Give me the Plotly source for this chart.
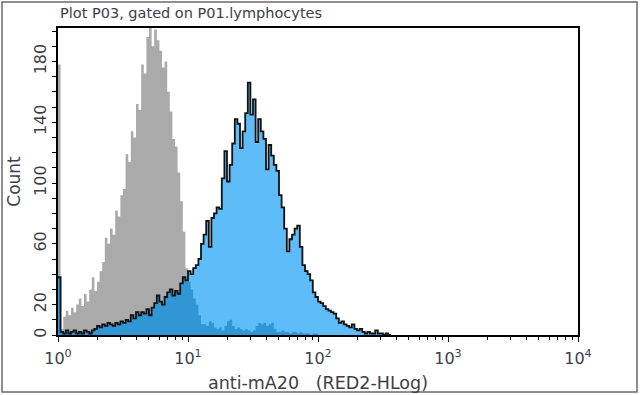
import plotly.graph_objects as go

# ---- data (counts per channel, 50 channels per decade, starting at 10^0) ----
CHANNELS_PER_DECADE = 50

gray_counts = [
    178, 4, 12, 16, 13, 18, 15, 20, 24, 19,
    27, 22, 30, 38, 29, 35, 42, 48, 64, 60,
    70, 66, 82, 78, 92, 96, 119, 114, 134, 130,
    152, 148, 178, 172, 196, 202, 190, 201, 194, 187,
    176, 180, 160, 147, 129, 124, 107, 88, 68, 44,
    35, 30, 24, 20, 13, 7, 7, 6, 9, 8,
    5, 4, 5, 3, 6, 9, 10, 6, 4, 5,
    4, 3, 4, 3, 2, 3, 6, 8, 7, 8,
    6, 7, 8, 4, 2, 2, 3, 2, 2, 1,
    2, 2, 1, 2, 1, 1, 1, 0, 1, 1,
    0,
]

blue_counts = [
    38, 2, 1, 3, 1, 2, 3, 1, 2, 1,
    3, 2, 1, 3, 4, 6, 5, 7, 6, 8,
    7, 6, 8, 7, 9, 8, 10, 9, 13, 11,
    15, 13, 15, 14, 17, 13, 18, 21, 26, 22,
    20, 25, 28, 30, 26, 29, 27, 34, 38, 36,
    42, 40, 44, 46, 50, 60, 66, 75, 58, 77,
    80, 84, 83, 103, 121, 101, 112, 126, 142, 139,
    123, 134, 146, 166, 145, 155, 127, 142, 134, 129,
    109, 125, 118, 112, 108, 92, 84, 70, 55, 63,
    66, 70, 72, 58, 46, 42, 40, 36, 28, 25,
    22, 21, 19, 17, 16, 15, 14, 11, 8, 9,
    7, 6, 5, 7, 4, 3, 4, 2, 1, 2,
    1, 1, 3, 1, 1, 0, 1, 0,
]

x_tick_values = [1, 10, 100, 1000, 10000]
x_tick_labels = ["10<sup>0</sup>", "10<sup>1</sup>", "10<sup>2</sup>", "10<sup>3</sup>", "10<sup>4</sup>"]
y_tick_values = list(range(0, 201, 10))
y_labelled = [0, 20, 60, 100, 140, 180]
y_tick_labels = [str(v) if v in y_labelled else "" for v in y_tick_values]

title_text = "Plot P03, gated on P01.lymphocytes"
x_title = "anti-mA20\u00a0\u00a0\u00a0(RED2-HLog)"
y_title = "Count"

# ---- helpers ----
n = max(len(gray_counts), len(blue_counts))
gray = gray_counts + [0] * (n - len(gray_counts))
blue = blue_counts + [0] * (n - len(blue_counts))
overlap = [min(g, b) for g, b in zip(gray, blue)]


def step_xy(vals):
    xs = [10 ** (i / CHANNELS_PER_DECADE) for i in range(len(vals) + 1)]
    ys = list(vals) + [vals[-1]]
    return xs, ys


GRAY = "#aaaaaa"
LIGHT_BLUE = "#5ebdf8"
DARK_BLUE = "#3097d4"
TEXT = "#3e3e48"
FONT = "DejaVu Sans"

fig = go.Figure()
for vals, color in [(gray, GRAY), (blue, LIGHT_BLUE), (overlap, DARK_BLUE)]:
    xs, ys = step_xy(vals)
    fig.add_trace(go.Scatter(
        x=xs, y=ys, mode="lines", line=dict(shape="hv", width=0, color=color),
        fill="tozeroy", fillcolor=color, hoverinfo="skip", showlegend=False,
    ))
xs, ys = step_xy(blue)
fig.add_trace(go.Scatter(
    x=xs, y=ys, mode="lines", line=dict(shape="hv", width=1.8, color="#111111"),
    hoverinfo="skip", showlegend=False,
))

minor_x = [m * 10 ** k for k in range(4) for m in range(2, 10)]

L, R, T, B = 58, 62, 28, 60
PW, PH = 640 - L - R, 395 - T - B

fig.update_layout(
    width=640, height=395,
    margin=dict(l=L, r=R, t=T, b=B, autoexpand=False),
    paper_bgcolor="white", plot_bgcolor="white",
    font=dict(family=FONT, size=16, color=TEXT),
    xaxis=dict(
        type="log", range=[0, 4], automargin=False,
        tickmode="array", tickvals=x_tick_values, ticktext=x_tick_labels,
        ticks="outside", ticklen=5, tickwidth=1, tickcolor="black",
        ticklabelstandoff=3,
        minor=dict(tickmode="array", tickvals=minor_x, ticks="outside", ticklen=3, tickcolor="black"),
        showgrid=False, zeroline=False,
        showline=True, linecolor="black", linewidth=1.6, mirror=True,
        title=dict(text=x_title, font=dict(size=17.5, color=TEXT), standoff=10),
        tickfont=dict(size=16, color=TEXT),
    ),
    yaxis=dict(
        range=[0, 202], automargin=False,
        tickmode="array", tickvals=y_tick_values, ticktext=y_tick_labels,
        tickangle=-90,
        ticks="outside", ticklen=4, tickwidth=1, tickcolor="black",
        showgrid=False, zeroline=False,
        showline=True, linecolor="black", linewidth=1.6, mirror=True,
        title=dict(text=y_title, font=dict(size=17, color=TEXT), standoff=6),
        tickfont=dict(size=16, color=TEXT),
    ),
    annotations=[dict(
        text=title_text, xref="paper", yref="paper", x=0.0, y=1.0,
        xanchor="left", yanchor="bottom", yshift=5, showarrow=False,
        font=dict(family=FONT, size=14.5, color=TEXT),
    )],
    shapes=[dict(
        type="rect", xref="paper", yref="paper",
        x0=-56 / PW, x1=1 + 59 / PW, y0=-57 / PH, y1=1 + 26 / PH,
        line=dict(color="#6a6a6a", width=1.5), fillcolor="rgba(0,0,0,0)", layer="below",
    )],
)

fig.write_html("out.html", config={"displayModeBar": False},
               post_script="document.body.style.margin='0px';")
